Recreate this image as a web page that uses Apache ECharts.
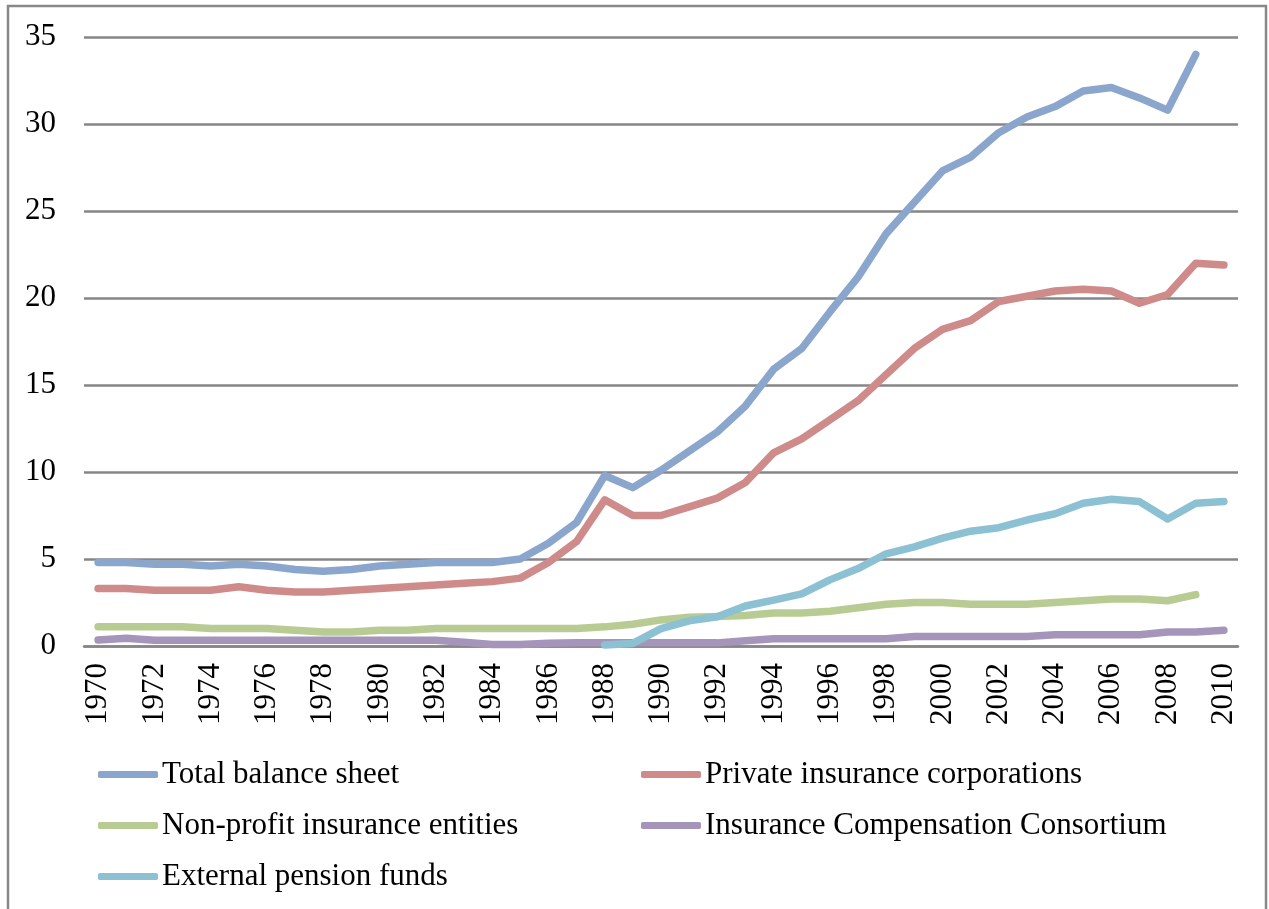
<!DOCTYPE html>
<html><head><meta charset="utf-8">
<script src="https://cdn.jsdelivr.net/npm/echarts@6/dist/echarts.min.js"></script>
<style>html,body{margin:0;padding:0;background:#fff}#c{width:1269px;height:909px}</style>
</head><body><div id="c"></div>
<script>
const years = [];
for (let y = 1970; y <= 2010; y++) years.push(String(y));

const totalBalance = [4.8,4.8,4.7,4.7,4.6,4.7,4.6,4.4,4.3,4.4,4.6,4.7,4.8,4.8,4.8,5.0,5.9,7.1,9.8,9.1,10.1,11.2,12.3,13.8,15.9,17.1,19.2,21.2,23.7,25.5,27.3,28.1,29.5,30.4,31.0,31.9,32.1,31.5,30.8,34.0,null];
const privateIns = [3.3,3.3,3.2,3.2,3.2,3.4,3.2,3.1,3.1,3.2,3.3,3.4,3.5,3.6,3.7,3.9,4.8,6.0,8.4,7.5,7.5,8.0,8.5,9.4,11.1,11.9,13.0,14.1,15.6,17.1,18.2,18.7,19.8,20.1,20.4,20.5,20.4,19.7,20.2,22.0,21.9];
const nonProfit = [1.1,1.1,1.1,1.1,1.0,1.0,1.0,0.9,0.8,0.8,0.9,0.9,1.0,1.0,1.0,1.0,1.0,1.0,1.1,1.25,1.5,1.65,1.7,1.75,1.9,1.9,2.0,2.2,2.4,2.5,2.5,2.4,2.4,2.4,2.5,2.6,2.7,2.7,2.6,2.95,null];
const consortium = [0.35,0.45,0.33,0.33,0.33,0.33,0.33,0.33,0.33,0.33,0.33,0.33,0.33,0.22,0.08,0.08,0.16,0.18,0.18,0.18,0.18,0.18,0.18,0.3,0.42,0.42,0.42,0.42,0.42,0.55,0.55,0.55,0.55,0.55,0.65,0.65,0.65,0.65,0.8,0.8,0.9];
const pensionFunds = [null,null,null,null,null,null,null,null,null,null,null,null,null,null,null,null,null,null,0.06,0.15,1.0,1.45,1.68,2.3,2.64,3.0,3.8,4.45,5.3,5.7,6.2,6.6,6.8,7.24,7.6,8.2,8.43,8.3,7.3,8.2,8.3];

const names = ['Total balance sheet','Private insurance corporations','Non-profit insurance entities','Insurance Compensation Consortium','External pension funds'];
const colors = ['#8BA6CC','#CE8B8A','#B8CB93','#A595BA','#8CC0D3'];
const dataSets = [totalBalance, privateIns, nonProfit, consortium, pensionFunds];

const font = "'Liberation Serif','Times New Roman',serif";
const chart = echarts.init(document.getElementById('c'), null, {renderer:'canvas'});
const legendCommon = {
  orient:'vertical', itemWidth:60, itemHeight:7, itemGap:20, icon:'roundRect',
  textStyle:{fontFamily:font, fontSize:31, color:'#000', padding:[0,0,0,-1]}
};
chart.setOption({
  animation:false,
  backgroundColor:'#fff',
  graphic:[{type:'rect', shape:{x:8,y:6,width:1258,height:920}, style:{fill:'none', stroke:'#888', lineWidth:2.5}}],
  grid:{left:84, right:31, top:37, bottom:263},
  legend:[
    Object.assign({left:93, top:754, data:[names[0],names[2],names[4]]}, legendCommon),
    Object.assign({left:636, top:754, data:[names[1],names[3]]}, legendCommon)
  ],
  xAxis:{
    type:'category', data:years, boundaryGap:true,
    axisLine:{lineStyle:{color:'#868686', width:2.5}},
    axisTick:{show:false},
    axisLabel:{rotate:90, interval:1, margin:17, fontFamily:font, fontSize:31, color:'#000'}
  },
  yAxis:{
    type:'value', min:0, max:35, interval:5,
    axisLine:{show:false}, axisTick:{show:false},
    splitLine:{lineStyle:{color:'#868686', width:2.5}},
    axisLabel:{margin:28, fontFamily:font, fontSize:31, color:'#000'}
  },
  series: names.map((n,i)=>({
    name:n, type:'line', data:dataSets[i], showSymbol:false, symbol:'none',
    itemStyle:{color:colors[i]},
    lineStyle:{color:colors[i], width:7.5, cap:'round', join:'round'},
    connectNulls:false
  }))
});
</script></body></html>
